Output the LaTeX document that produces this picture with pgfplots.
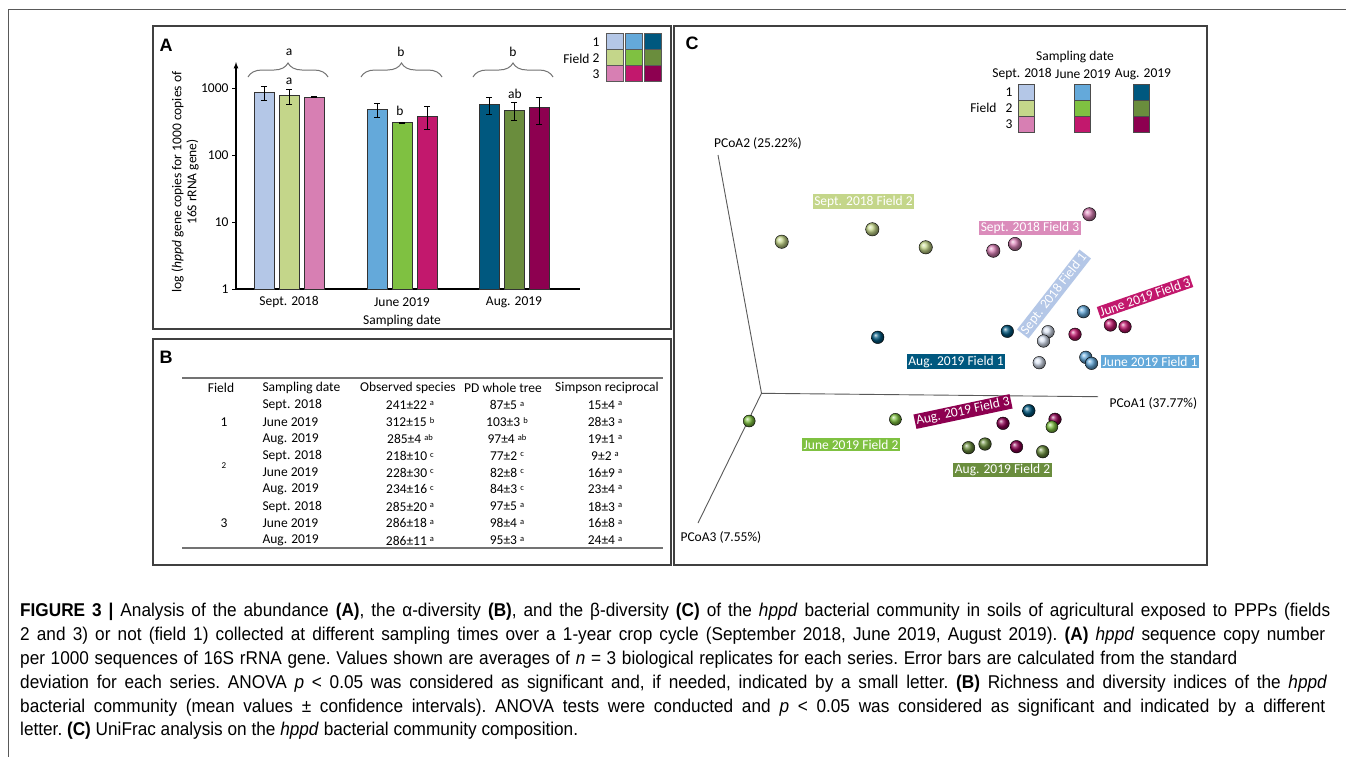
\documentclass[border=0pt]{standalone}
\usepackage{pgfplots}
\pgfplotsset{compat=1.18}
\usepackage{fontspec}
\setmainfont{Carlito}
\newfontfamily\capfont[FakeStretch=0.93]{Liberation Sans}
\newfontfamily\hfont{Liberation Sans}
\usetikzlibrary{decorations.pathreplacing}
\definecolor{sA}{HTML}{B4C7E7}
\definecolor{sB}{HTML}{C4D68A}
\definecolor{sC}{HTML}{D77FB3}
\definecolor{jA}{HTML}{64A9DA}
\definecolor{jB}{HTML}{7FC141}
\definecolor{jC}{HTML}{C2186D}
\definecolor{aA}{HTML}{00587F}
\definecolor{aB}{HTML}{6A8D3D}
\definecolor{aC}{HTML}{8D0050}
\newcommand{\sz}{\fontsize{13.5}{15}\selectfont}
\newcommand{\sups}[1]{\raisebox{3.5pt}{\fontsize{8.5}{9}\selectfont #1}}
\begin{document}
\begin{tikzpicture}[x=1pt,y=-1pt]
\path[use as bounding box] (0,0) rectangle (1346,756);
\fill[white] (0,0) rectangle (1346,756);
% outer frame
\draw[black!65, line width=1pt] (8,760) -- (8,9) -- (1350,9);
% panel boxes
\draw[black!75, line width=1.2pt] (153,26) rectangle (671,329);
\draw[black!75, line width=1.2pt] (153,339) rectangle (671,565);
\draw[black!75, line width=1.2pt] (674,26) rectangle (1207,565);
\node[font=\hfont\bfseries\fontsize{18}{18}\selectfont] at (166,45) {A};
\node[font=\hfont\bfseries\fontsize{18}{18}\selectfont] at (166,357) {B};
\node[font=\hfont\bfseries\fontsize{18}{18}\selectfont] at (692,43) {C};

% ---------------- Panel A ----------------
\begin{axis}[
  at={(236pt,-289pt)}, anchor=south west,
  scale only axis, width=344pt, height=227pt,
  xmin=236, xmax=580, ymode=log, ymin=1, ymax=2472,
  axis x line*=bottom, axis y line*=left,
  axis line style={line width=1.2pt, black},
  y axis line style={-latex},
  xtick=\empty,
  ytick={1,10,100,1000}, yticklabels={1,10,100,1000},
  yminorticks=false,
  tick align=outside, major tick length=4pt,
  ytick style={black, line width=0.8pt},
  yticklabel style={font=\sz},
  clip=false,
  ybar, bar width=20, bar shift=0pt,
  error bars/y dir=both, error bars/y explicit,
  error bars/error bar style={black, line width=0.9pt},
  error bars/error mark options={rotate=90, mark size=3pt, black, line width=0.9pt},
]
\addplot[fill=sA, draw=black!80, line width=0.7pt] coordinates {(264,881) += (0,201) -= (0,228)};
\addplot[fill=sB, draw=black!80, line width=0.7pt] coordinates {(289,786) += (0,167) -= (0,204)};
\addplot[fill=sC, draw=black!80, line width=0.7pt] coordinates {(314,741) += (0,9) -= (0,9)};
\addplot[fill=jA, draw=black!80, line width=0.7pt] coordinates {(377,486) += (0,117) -= (0,113)};
\addplot[fill=jB, draw=black!80, line width=0.7pt] coordinates {(402,306) += (0,8) -= (0,8)};
\addplot[fill=jC, draw=black!80, line width=0.7pt] coordinates {(427,385) += (0,153) -= (0,141)};
\addplot[fill=aA, draw=black!80, line width=0.7pt] coordinates {(489,582) += (0,159) -= (0,169)};
\addplot[fill=aB, draw=black!80, line width=0.7pt] coordinates {(514,474) += (0,150) -= (0,141)};
\addplot[fill=aC, draw=black!80, line width=0.7pt] coordinates {(539,525) += (0,199) -= (0,232)};
\end{axis}
% x labels
\node[font=\sz] at (289,302) {Sept. 2018};
\node[font=\sz] at (402,302) {June 2019};
\node[font=\sz] at (514,302) {Aug. 2019};
\node[font=\sz] at (402,321) {Sampling date};
\node[font=\sz, rotate=90, align=center] at (185,182) {log (\textit{hppd} gene copies for 1000 copies of\\16S rRNA gene)};
% braces and letters
\foreach \a/\b in {248/328, 361/442, 473/553}
  \draw[black!55, line width=1pt, decorate, decoration={brace, amplitude=14pt}] (\a,77) -- (\b,77);
\node[font=\sz] at (289,52) {a};
\node[font=\sz] at (401,52) {b};
\node[font=\sz] at (513,52) {b};
\node[font=\sz] at (289,81) {a};
\node[font=\sz] at (400,111) {b};
\node[font=\sz] at (515,94) {ab};
% legend A
\foreach \c/\x in {s/606, j/625, a/644} {
  \draw[black!65, fill=\c A] (\x,33) rectangle ++(17,16);
  \draw[black!65, fill=\c B] (\x,49) rectangle ++(17,16);
  \draw[black!65, fill=\c C] (\x,65) rectangle ++(17,16);
}
\node[font=\sz, anchor=east] at (603,42) {1};
\node[font=\sz, anchor=east] at (603,58) {2};
\node[font=\sz, anchor=east] at (603,74) {3};
\node[font=\sz, anchor=east] at (593,59) {Field};

% ---------------- Panel B ----------------
\draw[black!55, line width=1.3pt] (182,378) -- (663,378);
\draw[black!55, line width=1.3pt] (182,548) -- (663,548);
\node[font=\sz] at (221,388) {Field};
\node[font=\sz, anchor=west] at (259,388) {Sampling date};
\node[font=\sz] at (408,388) {Observed species};
\node[font=\sz] at (503,388) {PD whole tree};
\node[font=\sz] at (607,388) {Simpson reciprocal};
\foreach \yy/\d/\o/\p/\s in {
  405/Sept. 2018/241±22 \sups{a}/87±5 \sups{a}/15±4 \sups{a},
  422/June 2019/312±15 \sups{b}/103±3 \sups{b}/28±3 \sups{a},
  439/Aug. 2019/285±4 \sups{ab}/97±4 \sups{ab}/19±1 \sups{a},
  456/Sept. 2018/218±10 \sups{c}/77±2 \sups{c}/9±2 \sups{a},
  472.5/June 2019/228±30 \sups{c}/82±8 \sups{c}/16±9 \sups{a},
  489/Aug. 2019/234±16 \sups{c}/84±3 \sups{c}/23±4 \sups{a},
  506.5/Sept. 2018/285±20 \sups{a}/97±5 \sups{a}/18±3 \sups{a},
  523/June 2019/286±18 \sups{a}/98±4 \sups{a}/16±8 \sups{a},
  540.5/Aug. 2019/286±11 \sups{a}/95±3 \sups{a}/24±4 \sups{a}} {
  \node[font=\sz, anchor=west] at (259,\yy) {\d};
  \node[font=\sz] at (410,\yy) {\o};
  \node[font=\sz] at (507,\yy) {\p};
  \node[font=\sz] at (605,\yy) {\s};
}
\node[font=\sz] at (224,422) {1};
\node[font=\fontsize{9}{9}\selectfont] at (224,466) {2};
\node[font=\sz] at (224,523) {3};

% ---------------- Panel C ----------------
\begin{axis}[
  at={(674pt,-565pt)}, anchor=south west,
  scale only axis, width=533pt, height=539pt,
  xmin=674, xmax=1207, ymin=-565, ymax=-26,
  axis lines=none, clip=false,
]
\addplot[black!65, line width=0.9pt, no marks] coordinates {(718,-155) (761.5,-393.3) (1098,-396.7)};
\addplot[black!65, line width=0.9pt, no marks] coordinates {(761.5,-393.3) (698,-523)};
\node[font=\sz] at (axis cs:758,-143) {PCoA2 (25.22\%)};
\node[font=\sz, anchor=west] at (axis cs:1106,-403) {PCoA1 (37.77\%)};
\node[font=\sz, anchor=west] at (axis cs:677,-537) {PCoA3 (7.55\%)};
% labels
\node[font=\sz, fill=sB, text=white, inner sep=1.5pt] at (axis cs:863.5,-201.5) {Sept. 2018 Field 2};
\node[font=\sz, fill=sC!90!white, text=white, inner sep=1.5pt] at (axis cs:1030,-228) {Sept. 2018 Field 3};
\node[font=\sz, fill=sA, text=white, inner sep=1.5pt, rotate=52] at (axis cs:1054,-294) {Sept. 2018 Field 1};
\node[font=\sz, fill=jC, text=white, inner sep=1.5pt, rotate=19] at (axis cs:1145,-297) {June 2019 Field 3};
\node[font=\sz, fill=aC, text=white, inner sep=1.5pt, rotate=12] at (axis cs:963,-411.5) {Aug. 2019 Field 3};
\node[font=\sz, fill=aA, text=white, inner sep=1.5pt] at (axis cs:956,-361.5) {Aug. 2019 Field 1};
\node[font=\sz, fill=jA, text=white, inner sep=1.5pt] at (axis cs:1150,-361.5) {June 2019 Field 1};
\node[font=\sz, fill=jB, text=white, inner sep=1.5pt] at (axis cs:851,-444.5) {June 2019 Field 2};
\node[font=\sz, fill=aB, text=white, inner sep=1.5pt] at (axis cs:1002.5,-470) {Aug. 2019 Field 2};
% spheres
\addplot[only marks, mark=ball, mark size=6.7pt, mark options={ball color=sB}] coordinates {(781.7,-241.7) (872.3,-229.3) (925.7,-247.3)};
\addplot[only marks, mark=ball, mark size=6.7pt, mark options={ball color=sC}] coordinates {(993.3,-250.7) (1015,-244) (1089.3,-214.3)};
\addplot[only marks, mark=ball, mark size=6.3pt, mark options={ball color=sA!50!white}] coordinates {(1048,-331.7) (1043.5,-341) (1039.2,-362.7)};
\addplot[only marks, mark=ball, mark size=6.3pt, mark options={ball color=jA}] coordinates {(1083.5,-311.7) (1085.8,-357.3) (1091.5,-363.3)};
\addplot[only marks, mark=ball, mark size=6.3pt, mark options={ball color=aA}] coordinates {(877.7,-337.3) (1007.3,-331.3) (1028.8,-410.7)};
\addplot[only marks, mark=ball, mark size=6.3pt, mark options={ball color=jC}] coordinates {(1075,-334.3) (1110.4,-325) (1125,-326.7)};
\addplot[only marks, mark=ball, mark size=6.3pt, mark options={ball color=aC}] coordinates {(1003,-423.3) (1016.5,-446.7) (1055,-419.3)};
\addplot[only marks, mark=ball, mark size=6pt, mark options={ball color=jB}] coordinates {(749.2,-421) (895.4,-419.3) (1051.9,-426.7)};
\addplot[only marks, mark=ball, mark size=6.3pt, mark options={ball color=aB}] coordinates {(968.5,-447.7) (985,-444) (1042.7,-451.7)};
\end{axis}
% legend C
\node[font=\sz] at (1075,57) {Sampling date};
\node[font=\sz] at (1022,74) {Sept. 2018};
\node[font=\sz] at (1083,74) {June 2019};
\node[font=\sz] at (1143,74) {Aug. 2019};
\foreach \c/\x in {s/1018, j/1074, a/1133} {
  \draw[black!70, fill=\c A] (\x,84) rectangle ++(16,16);
  \draw[black!70, fill=\c B] (\x,100) rectangle ++(16,16);
  \draw[black!70, fill=\c C] (\x,116) rectangle ++(16,16);
}
\node[font=\sz, anchor=east] at (1016,92) {1};
\node[font=\sz, anchor=east] at (1016,108) {2};
\node[font=\sz, anchor=east] at (1016,124) {3};
\node[font=\sz, anchor=east] at (1000,108) {Field};

% ---------------- Caption ----------------
\begin{scope}[every node/.style={anchor=west, inner sep=0pt, font=\capfont\fontsize{18.5}{20}\selectfont\frenchspacing}]
\node at (20,612) {\makebox[1310pt][s]{\textbf{FIGURE 3 |} Analysis of the abundance \textbf{(A)}, the α-diversity \textbf{(B)}, and the β-diversity \textbf{(C)} of the \textit{hppd} bacterial community in soils of agricultural exposed to PPPs (fields}};
\node at (20,636) {\makebox[1305pt][s]{2 and 3) or not (field 1) collected at different sampling times over a 1-year crop cycle (September 2018, June 2019, August 2019). \textbf{(A)} \textit{hppd} sequence copy number}};
\node at (20,660) {\makebox[1217pt][s]{per 1000 sequences of 16S rRNA gene. Values shown are averages of \textit{n} = 3 biological replicates for each series. Error bars are calculated from the standard}};
\node at (20,684) {\makebox[1307pt][s]{deviation for each series. ANOVA \textit{p} < 0.05 was considered as significant and, if needed, indicated by a small letter. \textbf{(B)} Richness and diversity indices of the \textit{hppd}}};
\node at (20,708) {\makebox[1305pt][s]{bacterial community (mean values ± confidence intervals). ANOVA tests were conducted and \textit{p} < 0.05 was considered as significant and indicated by a different}};
\node at (20,731) {letter. \textbf{(C)} UniFrac analysis on the \textit{hppd} bacterial community composition.};
\end{scope}
\end{tikzpicture}
\end{document}
